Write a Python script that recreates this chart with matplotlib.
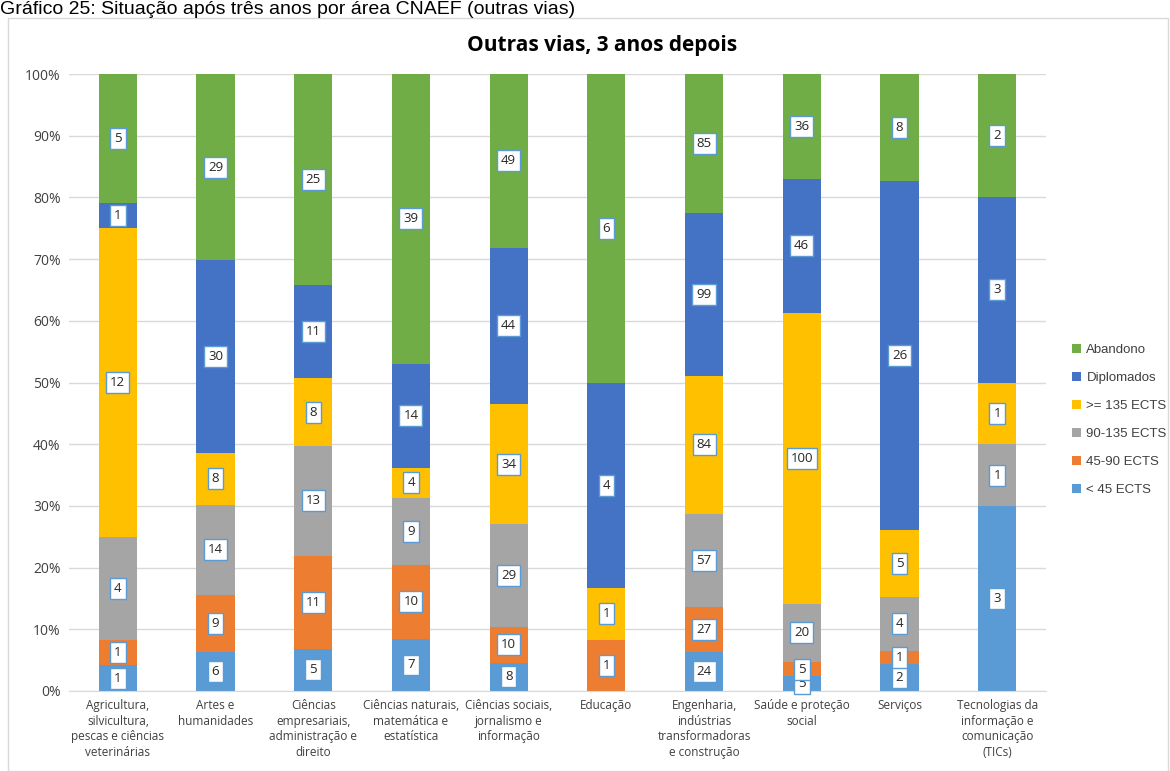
import matplotlib.pyplot as plt
import numpy as np
from matplotlib.patches import Rectangle

categories = ['Agricultura,\nsilvicultura,\npescas e ciências\nveterinárias',
              'Artes e\nhumanidades',
              'Ciências\nempresariais,\nadministração e\ndireito',
              'Ciências naturais,\nmatemática e\nestatística',
              'Ciências sociais,\njornalismo e\ninformação',
              'Educação',
              'Engenharia,\nindústrias\ntransformadoras\ne construção',
              'Saúde e proteção\nsocial',
              'Serviços',
              'Tecnologias da\ninformação e\ncomunicação\n(TICs)']

series_names = ['< 45 ECTS', '45-90 ECTS', '90-135 ECTS', '>= 135 ECTS', 'Diplomados', 'Abandono']
lt45 = [1, 6, 5, 7, 8, 0, 24, 5, 2, 3]
e45_90 = [1, 9, 11, 10, 10, 1, 27, 5, 1, 0]
e90_135 = [4, 14, 13, 9, 29, 0, 57, 20, 4, 1]
ge135 = [12, 8, 8, 4, 34, 1, 84, 100, 5, 1]
diplomados = [1, 30, 11, 14, 44, 4, 99, 46, 26, 3]
abandono = [5, 29, 25, 39, 49, 6, 85, 36, 8, 2]

colors = ['#5B9BD5', '#ED7D31', '#A5A5A5', '#FFC000', '#4472C4', '#70AD47']

counts = np.array([lt45, e45_90, e90_135, ge135, diplomados, abandono], dtype=float)
shares = counts / counts.sum(axis=0)

plt.rcParams['font.family'] = ['Open Sans', 'DejaVu Sans']

fig = plt.figure(figsize=(11.7, 7.71), dpi=100)
fig.patches.append(Rectangle((8 / 1170, 0), 1160 / 1170, 1 - 18 / 771, transform=fig.transFigure,
                             fill=False, edgecolor='#D9D9D9', linewidth=1))
fig.text(0.0, 1 - 14 / 771, 'Gráfico 25: Situação após três anos por área CNAEF (outras vias)',
         fontsize=14, va='baseline', ha='left', color='black', family=['Liberation Sans', 'DejaVu Sans'])
fig.text(0.515, 1 - 46 / 771, 'Outras vias, 3 anos depois', fontsize=15, fontweight='bold',
         ha='center', va='center', color='black')

ax = fig.add_axes([69 / 1170, 1 - 691 / 771, 977 / 1170, 617 / 771])
x = np.arange(len(categories))
bottom = np.zeros(len(categories))
for i, name in enumerate(series_names):
    ax.bar(x, shares[i], 0.39, bottom=bottom, color=colors[i], label=name, zorder=2)
    for j in range(len(categories)):
        if counts[i, j] > 0:
            ax.text(x[j], bottom[j] + shares[i, j] / 2, str(int(counts[i, j])), ha='center', va='center',
                    fontsize=9.5, color='#262626', zorder=4,
                    bbox=dict(boxstyle='square,pad=0.3', facecolor='white', edgecolor='#5B9BD5', linewidth=1))
    bottom += shares[i]

ax.set_xlim(-0.5, 9.5)
ax.set_ylim(0, 1)
ax.set_yticks(np.arange(0, 1.01, 0.1))
ax.set_yticklabels(['%d%%' % v for v in range(0, 101, 10)], fontsize=10, color='#404040')
ax.set_xticks(x)
ax.set_xticklabels(categories, fontsize=8.5, color='#404040', linespacing=1.25, va='top')
ax.tick_params(axis='both', length=0, pad=6)
ax.yaxis.grid(True, color='#D9D9D9', linewidth=1, zorder=0)
for s in ['top', 'right', 'left']:
    ax.spines[s].set_visible(False)
ax.spines['bottom'].set_color('#D9D9D9')

handles, labels = ax.get_legend_handles_labels()
fig.legend(handles[::-1], labels[::-1], loc='upper left', bbox_to_anchor=(1060 / 1170, 1 - 332 / 771),
           frameon=False, handlelength=0.7, handleheight=0.7, labelspacing=1.2,
           handletextpad=0.4, labelcolor='#404040',
           prop={'family': ['Liberation Sans', 'DejaVu Sans'], 'size': 9.5})

fig.savefig('out.png', dpi=100)
